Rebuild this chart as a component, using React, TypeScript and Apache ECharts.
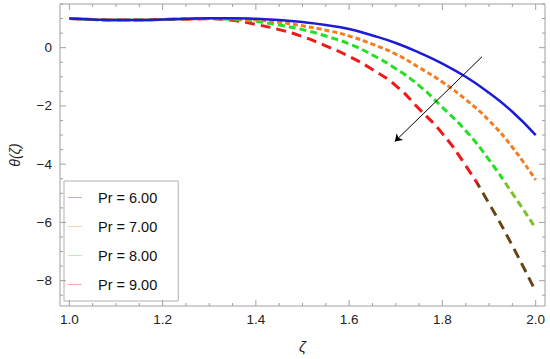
import React, { useEffect, useRef } from "react";
import * as echarts from "echarts";

const zeta = [1.0, 1.05, 1.1, 1.15, 1.2, 1.25, 1.3, 1.35, 1.4, 1.45, 1.5, 1.55, 1.6, 1.65, 1.7, 1.75, 1.8, 1.85, 1.9, 1.95, 2.0];
const pr6 = [1.0, 0.97, 0.95, 0.95, 0.97, 0.99, 1.01, 1.01, 0.99, 0.95, 0.88, 0.78, 0.64, 0.42, 0.16, -0.17, -0.55, -1.0, -1.55, -2.2, -3.0];
const pr7 = [1.0, 0.97, 0.95, 0.95, 0.97, 0.99, 1.0, 0.99, 0.95, 0.87, 0.75, 0.6, 0.4, 0.12, -0.22, -0.68, -1.18, -1.78, -2.5, -3.42, -4.54];
const pr8 = [1.0, 0.97, 0.95, 0.95, 0.97, 0.99, 1.0, 0.97, 0.9, 0.78, 0.62, 0.4, 0.13, -0.25, -0.72, -1.3, -2.05, -2.85, -3.85, -5.0, -6.2];
const pr9 = [1.0, 0.97, 0.95, 0.95, 0.97, 0.98, 0.99, 0.94, 0.8, 0.62, 0.38, 0.06, -0.3, -0.75, -1.3, -2.1, -2.95, -4.05, -5.35, -6.8, -8.37];
const seriesNames = ["Pr = 6.00", "Pr = 7.00", "Pr = 8.00", "Pr = 9.00"];
const xMajorTicks = [1.0, 1.2, 1.4, 1.6, 1.8, 2.0];
const yMajorTicks = [-8, -6, -4, -2, 0];
const arrowFrom = [1.885, -0.31];
const arrowTo = [1.698, -3.22];
const X_MIN = 0.98, X_MAX = 2.02, Y_MIN = -8.87, Y_MAX = 1.5;

const xTickValues: number[] = [];
for (let i = 0; i <= 20; i++) xTickValues.push(+(1 + i * 0.05).toFixed(2));
const yTickValues: number[] = [];
for (let i = 0; i <= 20; i++) yTickValues.push(+(-8.5 + i * 0.5).toFixed(2));

const FONT = "'Liberation Sans', Arial, sans-serif";
const AXIS_COLOR = "#a0a0a0";

export default function App() {
  const ref = useRef<HTMLDivElement>(null);
  useEffect(() => {
    const chart = echarts.init(ref.current!, undefined, { renderer: "svg" });
    const mk = (vals: number[]) => zeta.map((z, i) => [z, vals[i]]);
    const colors = ["#1c1cd6", "#f57d20", "#22e022", "#f01818"];
    const dashes: any[] = ["solid", [5, 3], [7, 4], [10, 6]];
    const datas = [pr6, pr7, pr8, pr9];
    const split = (c1: string, c2: string, at: number) =>
      new echarts.graphic.LinearGradient(0, 0, 1, 0, [
        { offset: 0, color: c1 },
        { offset: at, color: c1 },
        { offset: at, color: c2 },
        { offset: 1, color: c2 },
      ]);
    const strokes: any[] = [colors[0], colors[1], split(colors[2], "#7cc02a", 0.93), split(colors[3], "#6a4414", 0.875)];

    const isMajor = (v: number, list: number[]) => list.some((m) => Math.abs(m - v) < 1e-6);
    const fmtY = (v: number) => (v < 0 ? "\u2212" + Math.abs(v) : String(v));

    const lineSeries = seriesNames.map((n, i) => ({
      name: n,
      type: "line",
      data: mk(datas[i]),
      smooth: 0.5,
      symbol: "none",
      z: 10 - i,
      lineStyle: { color: strokes[i], width: i === 0 ? 2.5 : 3, type: dashes[i] },
      itemStyle: { color: colors[i] },
    }));

    const xTickSeries = {
      name: "xticks",
      type: "custom",
      silent: true,
      clip: false,
      z: 5,
      data: xTickValues.map((v) => [v, isMajor(v, xMajorTicks) ? 1 : 0]),
      renderItem: (params: any, api: any) => {
        const v = api.value(0);
        const major = api.value(1) === 1;
        const len = major ? 6 : 3;
        const b = api.coord([v, Y_MIN]);
        const t = api.coord([v, Y_MAX]);
        const children: any[] = [
          { type: "line", shape: { x1: b[0], y1: b[1], x2: b[0], y2: b[1] - len }, style: { stroke: AXIS_COLOR, lineWidth: 1 } },
          { type: "line", shape: { x1: t[0], y1: t[1], x2: t[0], y2: t[1] + len }, style: { stroke: AXIS_COLOR, lineWidth: 1 } },
        ];
        if (major) {
          children.push({
            type: "text",
            x: b[0],
            y: b[1] + 6,
            style: { text: v.toFixed(1), align: "center", verticalAlign: "top", fill: "#222", fontSize: 13.5, fontFamily: FONT },
          });
        }
        return { type: "group", children };
      },
    };
    const yTickSeries = {
      name: "yticks",
      type: "custom",
      silent: true,
      clip: false,
      z: 5,
      data: yTickValues.map((v) => [v, isMajor(v, yMajorTicks) ? 1 : 0]),
      renderItem: (params: any, api: any) => {
        const v = api.value(0);
        const major = api.value(1) === 1;
        const len = major ? 6 : 3;
        const l = api.coord([X_MIN, v]);
        const r = api.coord([X_MAX, v]);
        const children: any[] = [
          { type: "line", shape: { x1: l[0], y1: l[1], x2: l[0] + len, y2: l[1] }, style: { stroke: AXIS_COLOR, lineWidth: 1 } },
          { type: "line", shape: { x1: r[0], y1: r[1], x2: r[0] - len, y2: r[1] }, style: { stroke: AXIS_COLOR, lineWidth: 1 } },
        ];
        if (major) {
          children.push({
            type: "text",
            x: l[0] - 8,
            y: l[1],
            style: { text: fmtY(v), align: "right", verticalAlign: "middle", fill: "#222", fontSize: 13.5, fontFamily: FONT },
          });
        }
        return { type: "group", children };
      },
    };

    chart.setOption({
      animation: false,
      backgroundColor: "#ffffff",
      grid: {
        left: 55,
        right: 5,
        top: 4,
        bottom: 53,
        containLabel: false,
        show: true,
        borderColor: AXIS_COLOR,
        borderWidth: 1,
        backgroundColor: "transparent",
      },
      xAxis: {
        type: "value",
        min: X_MIN,
        max: X_MAX,
        axisLine: { show: false },
        axisTick: { show: false },
        axisLabel: { show: false },
        splitLine: { show: false },
        name: "ζ",
        nameLocation: "middle",
        nameGap: 33,
        nameTextStyle: { fontStyle: "italic", fontSize: 15, color: "#222", fontFamily: FONT },
      },
      yAxis: {
        type: "value",
        min: Y_MIN,
        max: Y_MAX,
        axisLine: { show: false },
        axisTick: { show: false },
        axisLabel: { show: false },
        splitLine: { show: false },
        name: "θ(ζ)",
        nameLocation: "middle",
        nameGap: 38,
        nameRotate: 90,
        nameTextStyle: { fontStyle: "italic", fontSize: 14, color: "#222", fontFamily: FONT },
      },
      legend: {
        left: 64,
        top: 181,
        orient: "vertical",
        backgroundColor: "#ffffff",
        borderColor: "#b0b0b0",
        borderWidth: 1,
        padding: [9, 21, 9, 4],
        itemWidth: 14,
        itemHeight: 14,
        itemGap: 14,
        formatter: (n: string) => "{g|}" + n,
        textStyle: {
          fontSize: 14.5,
          color: "#111",
          fontFamily: FONT,
          rich: { g: { width: 11 } },
        },
        data: seriesNames.map((n, i) => ({
          name: n,
          icon: "path://M0,0 L14,0 L14,1 L0,1 Z",
          itemStyle: { color: colors[i], opacity: 0.35, borderWidth: 0 },
        })),
      },
      series: [
        ...lineSeries,
        xTickSeries,
        yTickSeries,
        {
          name: "arrow",
          type: "lines",
          coordinateSystem: "cartesian2d",
          silent: true,
          z: 20,
          symbol: ["none", "arrow"],
          symbolSize: 7,
          lineStyle: { color: "#000", width: 1, opacity: 1 },
          data: [{ coords: [arrowFrom, arrowTo] }],
        },
      ],
    });
    return () => chart.dispose();
  }, []);
  return <div ref={ref} style={{ width: 550, height: 359, position: "fixed", left: 0, top: 0 }} />;
}
